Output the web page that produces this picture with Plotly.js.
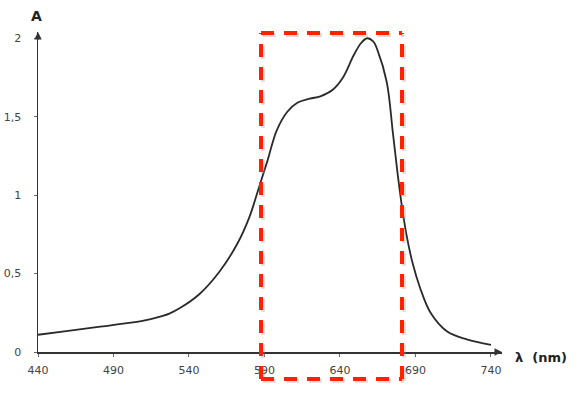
<!DOCTYPE html>
<html>
<head>
<meta charset="utf-8">
<script src="https://cdn.plot.ly/plotly-3.0.1.min.js"></script>
<style>html,body{margin:0;padding:0;background:#fff;}#chart{width:587px;height:397px;}</style>
</head>
<body>
<div id="chart"></div>
<script>
// Absorption spectrum
const wavelength = [440, 460, 480, 500, 510, 519, 527, 534, 547, 560, 572, 580, 587, 592, 598, 605, 612, 620, 627, 635, 642, 649, 654, 658, 662, 665, 671, 675, 678, 681, 684, 688, 693, 700, 711, 724, 740];
const absorbance = [0.11, 0.135, 0.16, 0.185, 0.20, 0.22, 0.245, 0.28, 0.37, 0.51, 0.69, 0.86, 1.07, 1.22, 1.41, 1.53, 1.59, 1.615, 1.63, 1.67, 1.75, 1.89, 1.97, 2.0, 1.98, 1.92, 1.72, 1.40, 1.15, 0.93, 0.75, 0.57, 0.41, 0.25, 0.13, 0.08, 0.045];
const xTicks = [440, 490, 540, 590, 640, 690, 740];
const yTicks = [0, 0.5, 1, 1.5, 2];

const tickFont = {family: 'DejaVu Sans, Verdana, sans-serif', size: 11, color: '#444'};

const trace = {
  x: wavelength, y: absorbance, type: 'scatter', mode: 'lines',
  line: {color: '#2a2a2a', width: 1.8, shape: 'spline', smoothing: 1},
  hoverinfo: 'skip'
};

const boxL = 0.4806, boxR = 0.7845, boxT = 0.997, boxB = -0.084;
function rectShapes(dx, dy, color, opacity) {
  return [
    {type: 'line', xref: 'paper', yref: 'paper', x0: boxL + dx, x1: boxR + dx, y0: boxT + dy, y1: boxT + dy},
    {type: 'line', xref: 'paper', yref: 'paper', x0: boxL + dx, x1: boxR + dx, y0: boxB + dy, y1: boxB + dy},
    {type: 'line', xref: 'paper', yref: 'paper', x0: boxL + dx, x1: boxL + dx, y0: boxB + dy, y1: boxT + dy},
    {type: 'line', xref: 'paper', yref: 'paper', x0: boxR + dx, x1: boxR + dx, y0: boxB + dy, y1: boxT + dy}
  ].map(s => Object.assign(s, {layer: 'above', opacity: opacity, line: {color: color, width: 4, dash: '13px,10px'}}));
}

const layout = {
  width: 587, height: 397,
  margin: {l: 38, r: 85, t: 32, b: 45},
  paper_bgcolor: '#fff', plot_bgcolor: '#fff',
  separators: ',.',
  showlegend: false,
  xaxis: {
    range: [440, 747.3], tickvals: xTicks, ticktext: xTicks.map(String),
    showline: true, linecolor: '#333', linewidth: 1.5, showgrid: false, zeroline: false,
    ticks: 'outside', ticklen: 3, tickcolor: '#666', tickfont: tickFont, ticklabelstandoff: 4
  },
  yaxis: {
    range: [0, 2.04], tickvals: yTicks,
    showline: true, linecolor: '#333', linewidth: 1.5, showgrid: false, zeroline: false,
    ticks: 'outside', ticklen: 3, tickcolor: '#666', tickfont: tickFont, ticklabelstandoff: 10
  },
  shapes: rectShapes(0.004, -0.006, '#999', 0.35).concat(rectShapes(0, 0, '#ff2200', 1)),
  annotations: [
    {xref: 'paper', yref: 'paper', x: 1, y: 0, ax: -9, ay: 0, showarrow: true, arrowhead: 2, arrowsize: 1, arrowwidth: 1.5, arrowcolor: '#333', text: '', standoff: 0},
    {xref: 'paper', yref: 'paper', x: 0, y: 1, ax: 0, ay: 9, showarrow: true, arrowhead: 2, arrowsize: 1, arrowwidth: 1.5, arrowcolor: '#333', text: '', standoff: 0},
    {xref: 'paper', yref: 'paper', x: -0.004, y: 1.05, text: 'A', showarrow: false, xanchor: 'center', yanchor: 'middle',
     font: {family: 'DejaVu Sans, Verdana, sans-serif', size: 14, color: '#222', weight: 'bold'}},
    {xref: 'paper', yref: 'paper', x: 1.084, y: -0.016, text: 'λ  (nm)', showarrow: false, xanchor: 'center', yanchor: 'middle',
     font: {family: 'DejaVu Sans, Verdana, sans-serif', size: 13, color: '#222', weight: 'bold'}}
  ]
};

Plotly.newPlot('chart', [trace], layout, {staticPlot: true, displayModeBar: false});
</script>
</body>
</html>
